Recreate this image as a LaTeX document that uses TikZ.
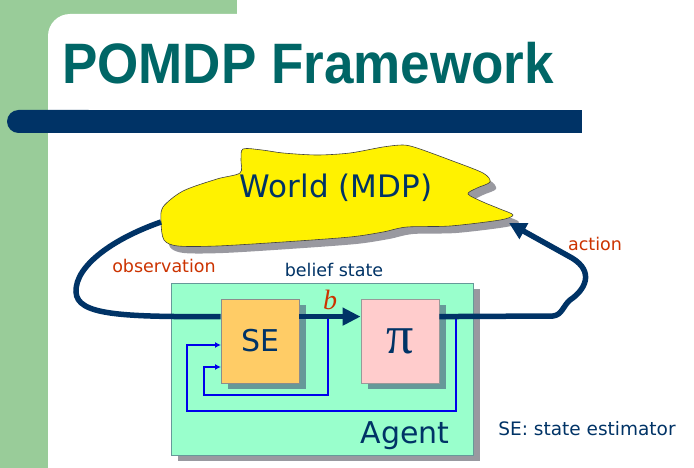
\documentclass[tikz,border=0pt]{standalone}
\usepackage{fontspec}
\setmainfont{DejaVu Sans}
\newfontfamily\titlefont{Liberation Sans}
\newfontfamily\greekfont{Liberation Serif}
\usetikzlibrary{shadows,arrows.meta,calc}
\definecolor{stripgreen}{RGB}{153,204,153}
\definecolor{titleteal}{RGB}{0,102,102}
\definecolor{navy}{RGB}{0,51,102}
\definecolor{redtxt}{RGB}{204,51,0}
\definecolor{agentfill}{RGB}{153,255,204}
\definecolor{agentborder}{RGB}{102,153,153}
\definecolor{sefill}{RGB}{255,204,102}
\definecolor{pifill}{RGB}{255,204,204}
\definecolor{boxshadow}{RGB}{102,153,153}
\definecolor{greyshadow}{RGB}{153,153,160}
\definecolor{fbblue}{RGB}{0,0,235}
\tikzset{
  cloudshape/.pic={
    \path[pic actions] plot[smooth cycle, tension=0.5] coordinates {
      (243,149) (262,150) (283,153) (317,155) (350,153) (383,147) (403,145)
      (417,148) (450,160) (483,173) (490,182) (477,188) (468,194) (483,202)
      (500,209) (513,215) (500,220) (450,226) (407,227) (383,232) (350,237)
      (283,242) (217,246) (178,246) (164,240) (161,222) (163,207) (183,191)
      (217,179) (240,173) (241,160)};
  },
  flow/.style={draw=navy, line width=5.5pt},
  fbline/.style={draw=fbblue, line width=1.6pt, -{Latex[length=6pt,width=6pt]}},
  innerbox/.style={minimum width=78pt, minimum height=84pt, inner sep=0pt,
    line width=0.8pt,
    drop shadow={shadow xshift=7pt, shadow yshift=-6pt, fill=boxshadow, opacity=1}},
  comic/.style={text=navy, inner sep=0pt},
  smalltxt/.style={inner sep=0pt, font=\fontsize{17.5}{20}\selectfont},
}
\begin{document}
\begin{tikzpicture}[x=1pt,y=-1pt]
\useasboundingbox (0,0) rectangle (694,468);
% background
\fill[white] (0,0) rectangle (694,468);
\fill[stripgreen] (0,0) rectangle (237,40);
\fill[stripgreen] (0,0) rectangle (48,468);
\fill[white, rounded corners=22pt] (48,490) -- (48,14) -- (720,14) -- (720,490) -- cycle;
% title
\node[anchor=base west, text=titleteal, inner sep=0pt] (title) at (62,84)
  {\scalebox{0.93}[1]{\titlefont\bfseries\fontsize{57}{60}\selectfont POMDP Framework}};
% bar
\fill[navy, rounded corners=11.5pt] (7,110) rectangle (100,133);
\fill[navy] (50,110) rectangle (582,133);
% world cloud
\pic[fill=greyshadow] at (6,7) {cloudshape};
\pic[fill=yellow, draw=black!75, line width=0.6pt] at (0,0) {cloudshape};
\node[comic, font=\fontsize{31}{34}\selectfont] (world) at (336,188) {World (MDP)};
% agent
\node[draw=agentborder, fill=agentfill, line width=0.8pt, minimum width=302pt, minimum height=172pt,
  drop shadow={shadow xshift=7pt, shadow yshift=-6pt, fill=greyshadow, opacity=1}] (agent) at (322,369) {};
\node[comic, font=\fontsize{30}{34}\selectfont] (agentlabel) at (405,436) {Agent};
% coordinates
\coordinate (fb1) at (328,317);
\coordinate (fb2) at (456,317);
\coordinate (obsStart) at (161,222);
\coordinate (actEnd) at (509,223);
% feedback lines
\draw[fbline] (fb1) -- (328,395) -- (204,395) -- (204,367) -- (221,367);
\draw[fbline] (fb2) -- (456,411) -- (187,411) -- (187,345) -- (221,345);
% inner boxes
\node[innerbox, fill=sefill, draw=black!45, comic, font=\fontsize{30}{34}\selectfont] (se) at (260,341) {SE};
\node[innerbox, fill=pifill, draw=black!40, text=navy] (pi) at (400,341) {\greekfont\fontsize{54}{60}\selectfont π};
\coordinate (obsIn) at ($(se.north west)+(0,18)$);
\coordinate (bOut) at ($(se.north east)+(0,18)$);
\coordinate (piIn) at ($(pi.north west)+(0,18)$);
\coordinate (piOut) at ($(pi.north east)+(0,18)$);
% thick flows
\draw[flow] (obsStart) .. controls (115,238) and (75,265) .. (76,292) .. controls (77,315) and (120,317) .. (obsIn);
\draw[flow, -{Triangle[length=18pt,width=17pt]}] (bOut) -- (piIn);
\draw[flow, -{Triangle[length=17pt,width=17pt]}] (piOut) -- (553,316) .. controls (562,315) and (563,306) .. (570,300) .. controls (585,290) and (595,272) .. (572,258) -- (actEnd);
% labels
\node[text=redtxt, inner sep=0pt, font=\greekfont\itshape\fontsize{28}{30}\selectfont] (blabel) at (330,300) {b};
\node[smalltxt, text=navy] (belief) at (334,270) {belief state};
\node[smalltxt, text=redtxt] (obslabel) at (164,266) {observation};
\node[smalltxt, text=redtxt] (actlabel) at (595,244) {action};
\node[smalltxt, text=navy, font=\fontsize{18.5}{20}\selectfont] (selegend) at (587,429) {SE: state estimator};
\end{tikzpicture}
\end{document}
